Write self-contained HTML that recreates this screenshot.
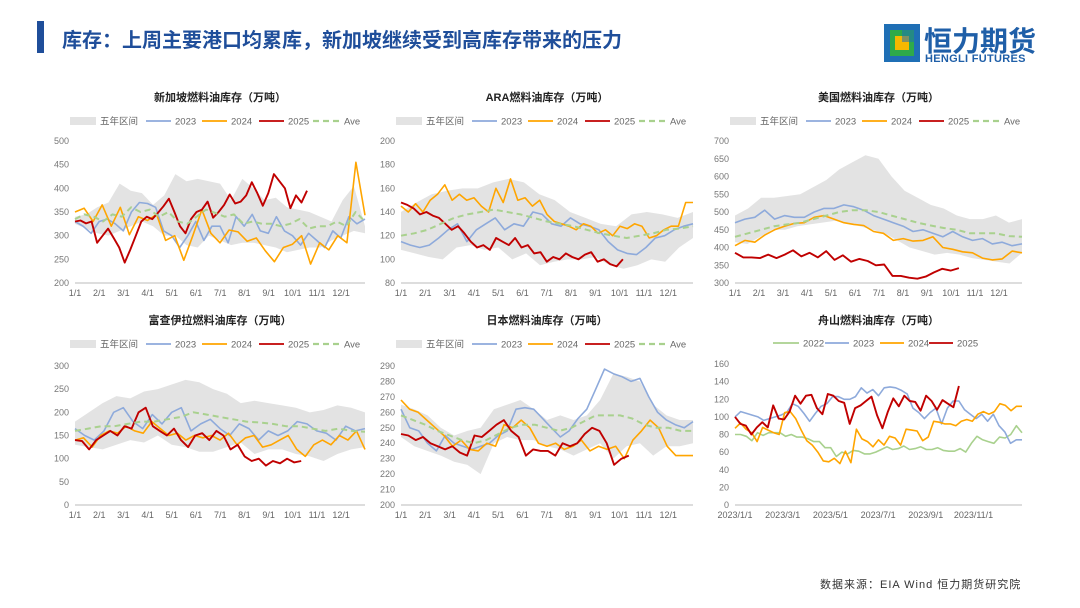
<!DOCTYPE html>
<html><head><meta charset="utf-8">
<style>
body{margin:0;width:1080px;height:608px;background:#fff;overflow:hidden;font-family:"Liberation Sans","Noto Sans CJK SC",sans-serif;position:relative}
#hdr-bar{position:absolute;left:37px;top:21px;width:7px;height:32px;background:#1f4e9a}
#hdr-title{position:absolute;left:62px;top:24px;font-size:20px;font-weight:bold;color:#1f4e9a;font-family:"Liberation Sans","Noto Sans CJK SC",sans-serif}
#logo{position:absolute;left:882px;top:18px}
#src{position:absolute;left:820px;top:576px;font-size:11px;color:#333;letter-spacing:1px}
svg{position:absolute;left:0;top:0}
</style></head><body>
<div id="hdr-bar"></div>
<div id="hdr-title">库存：上周主要港口均累库，新加坡继续受到高库存带来的压力</div>
<div id="logo">
<svg width="175" height="50" style="position:relative">
<rect x="2" y="6" width="36" height="38" fill="#1f6fb5"/><rect x="8" y="12" width="24" height="26" fill="#2eaa4a"/><rect x="13" y="18" width="14" height="14" fill="#f5b800"/><rect x="20" y="6" width="18" height="18" fill="#1f6fb5" opacity="0.55"/>
<text x="42" y="33" font-size="28" font-weight="bold" fill="#1f5fa8" font-family="Liberation Sans,Noto Sans CJK SC,sans-serif">恒力期货</text>
<text x="43" y="44" font-size="11" font-weight="bold" fill="#1f5fa8" font-family="Liberation Sans,sans-serif" letter-spacing="0.3">HENGLI FUTURES</text>
</svg></div>
<div id="src">数据来源：EIA Wind 恒力期货研究院</div>
<svg id="main" width="1080" height="608"></svg>
<script>
// ---- data ----
const monthLabels=["1/1","2/1","3/1","4/1","5/1","6/1","7/1","8/1","9/1","10/1","11/1","12/1"];
const zsLabels=["2023/1/1","2023/3/1","2023/5/1","2023/7/1","2023/9/1","2023/11/1"];
const sg_band_hi=[340,345,360,370,410,395,390,365,385,430,415,420,415,410,375,420,400,375,380,360,355,350,340,330,375,405,320];
const sg_band_lo=[325,315,305,300,310,320,330,320,300,300,280,275,300,290,280,285,285,280,275,265,270,275,275,290,300,310,305];
const sg_2023=[330,320,305,330,335,325,310,350,370,368,360,310,300,275,300,330,290,320,320,285,340,320,345,310,305,340,310,300,280,305,290,275,310,295,340,325,335];
const sg_2024=[350,358,330,365,320,360,302,340,332,345,290,300,248,300,355,305,285,312,308,288,295,268,245,275,282,300,240,285,270,300,285,455,343];
const sg_2025=[330,332,326,330,285,300,315,295,275,243,270,300,330,340,335,348,362,378,350,320,305,335,350,355,372,338,350,365,387,368,372,385,413,390,363,390,430,415,400,358,385,370,395];
const sg_ave=[335,345,340,330,345,340,360,350,355,340,350,330,325,340,355,348,340,345,325,330,325,325,320,325,335,315,320,320,330,320,350,330];
const ara_band_hi=[140,148,155,158,160,160,165,168,165,155,150,140,135,130,128,138,140,138,135,140];
const ara_band_lo=[108,105,102,100,110,112,108,110,100,105,95,98,100,100,102,95,92,95,100,98,110,118];
const ara_2023=[115,112,110,112,118,125,130,115,125,130,135,125,130,128,140,138,130,128,135,130,128,125,115,108,105,104,110,118,120,125,128,130];
const ara_2024=[145,140,147,140,150,155,163,150,155,150,152,145,140,160,148,168,150,152,145,150,138,132,130,128,125,130,128,122,125,120,128,126,130,128,118,120,125,128,128,148,148];
const ara_2025=[148,146,143,138,140,137,135,130,125,128,122,115,110,112,108,118,115,112,118,110,112,105,106,98,102,100,105,102,100,104,106,98,100,96,94,100];
const ara_ave=[120,122,125,130,135,138,140,142,140,138,135,132,130,128,125,122,120,118,120,122,125,126,128];
const us_band_hi=[490,510,540,540,545,550,570,590,620,640,660,650,600,560,540,520,510,490,480,480,490,470,480];
const us_band_lo=[415,410,430,450,450,460,465,470,475,470,460,450,440,420,400,390,380,385,380,370,365,360,355,385];
const us_2023=[470,480,485,505,480,490,485,485,500,510,510,520,515,505,490,480,470,460,445,450,440,430,445,430,420,425,410,415,405,410];
const us_2024=[405,420,415,435,450,460,468,470,485,490,480,470,465,462,445,440,420,425,418,420,430,400,395,388,385,370,365,368,390,385];
const us_2025=[385,372,372,370,380,370,380,392,375,385,372,390,365,378,360,368,362,350,352,320,320,315,312,318,330,340,335,342];
const us_ave=[430,440,450,460,465,470,480,490,500,505,505,500,490,480,470,462,455,450,440,440,440,432,430];
const fj_band_hi=[180,200,220,235,230,245,250,260,270,265,250,240,220,225,220,215,210,200,205,215,210,200];
const fj_band_lo=[130,125,120,130,140,135,150,130,125,115,115,125,135,110,120,120,110,105,95,110,120,125];
const fj_2023=[165,150,140,160,200,210,180,165,195,175,200,210,160,175,185,165,150,175,165,140,160,150,160,180,175,160,155,140,170,160,165];
const fj_2024=[140,145,125,150,160,155,170,160,155,180,165,150,155,140,150,145,150,140,155,130,145,150,125,130,140,150,120,105,130,140,130,150,140,160,120];
const fj_2025=[140,138,120,140,150,160,150,170,165,200,210,170,160,150,165,140,125,150,155,140,160,150,120,130,105,95,100,85,95,90,100,92,95];
const fj_ave=[160,165,170,170,175,180,180,185,190,200,195,190,185,180,178,175,170,170,165,160,165,160,158];
const jp_band_hi=[265,262,258,250,245,248,250,262,265,268,262,255,258,255,258,268,285,283,280,265,258,255,255];
const jp_band_lo=[244,238,235,232,228,226,220,240,244,242,242,238,236,232,236,240,230,238,240,232,238,238,240];
const jp_2023=[262,250,248,240,235,245,240,238,236,238,240,245,248,262,263,262,256,250,244,248,256,262,275,288,285,283,280,282,270,260,255,252,250,254];
const jp_2024=[268,262,260,255,250,245,238,242,236,235,240,238,252,250,255,250,240,238,240,236,238,242,235,238,236,238,230,242,248,255,250,238,232,232,232];
const jp_2025=[246,245,242,244,240,238,236,238,234,232,245,244,248,252,255,248,244,232,236,235,235,232,240,238,240,246,250,248,240,226,230,232];
const jp_ave=[258,255,252,248,245,242,240,242,246,250,252,252,250,248,250,254,258,258,258,256,252,250,250,248,248];
const zs_2022=[80,80,78,73,82,79,82,82,82,78,80,77,77,75,72,72,65,65,55,60,58,62,61,58,58,60,63,66,63,64,67,63,64,66,63,63,65,62,61,61,64,60,70,78,74,72,70,77,76,80,90,82];
const zs_2023=[100,106,104,102,100,96,98,100,102,105,115,112,104,95,104,112,115,123,123,120,120,123,133,127,131,124,133,134,133,130,126,110,105,98,105,110,92,110,118,118,108,103,98,103,95,103,90,83,70,74,74];
const zs_2024=[87,93,86,82,72,88,85,82,80,105,106,98,85,73,68,60,50,49,53,47,61,48,86,75,72,66,74,68,78,76,68,86,85,84,73,77,95,94,92,92,90,95,97,95,103,106,103,106,115,113,107,112,112];
const zs_2025=[100,92,90,80,88,94,88,113,98,97,106,124,115,124,125,110,103,126,124,118,116,92,110,113,118,123,102,87,106,121,112,124,118,117,107,124,118,108,119,115,111,135];

const C={blue:"#8eaadb",orange:"#ffa500",red:"#c00000",green:"#a9d18e",band:"#e3e3e3"};
const NS="http://www.w3.org/2000/svg";
const svg=document.getElementById('main');
function mk(tag,attrs,parent){const e=document.createElementNS(NS,tag);for(const k in attrs)e.setAttribute(k,attrs[k]);(parent||svg).appendChild(e);return e;}

function chart(cfg){
  const g=mk('g',{});
  
  
  const ys=v=>cfg.yb-(v-cfg.min)/(cfg.max-cfg.min)*(cfg.yb-cfg.yt);
  const xs=(i,n,f)=>cfg.x0+(n<=1?0:i/(n-1))*f*(cfg.x1-cfg.x0);
  const t=mk('text',{x:(cfg.x0+cfg.x1)/2,y:cfg.ty,'text-anchor':'middle','font-size':11,'font-weight':'bold',fill:'#222'},g);
  t.textContent=cfg.title;
  
  
  for(let v=cfg.min;v<=cfg.max+1e-9;v+=cfg.step){
    const tl=mk('text',{x:cfg.x0-6,y:ys(v)+3,'text-anchor':'end','font-size':9,fill:'#777'},g);
    tl.textContent=v;
    
    
  }
  mk('line',{x1:cfg.x0,x2:cfg.x1,y1:cfg.yb,y2:cfg.yb,stroke:'#bbb','stroke-width':1},g);
  cfg.xl.forEach((l,i)=>{
    const x=cfg.x0+i*cfg.xstep;
    const xl=mk('text',{x:x,y:cfg.yb+13,'text-anchor':'middle','font-size':9,fill:'#666'},g);
    xl.textContent=l;
    
    
  });
  if(cfg.band){
    const hi=cfg.band[0],lo=cfg.band[1];let pts=[];
    hi.forEach((v,i)=>pts.push(xs(i,hi.length,1)+','+ys(v)));
    for(let i=lo.length-1;i>=0;i--)pts.push(xs(i,lo.length,1)+','+ys(lo[i]));
    const b=mk('polygon',{points:pts.join(' '),fill:C.band},g);
    
    
  }
  cfg.series.forEach(s=>{
    const p=s.d.map((v,i)=>xs(i,s.d.length,s.f||1).toFixed(1)+','+ys(v).toFixed(1)).join(' ');
    const l=mk('polyline',{points:p,fill:'none',stroke:s.c,'stroke-width':s.w||1.6,'stroke-dasharray':s.dash||'','stroke-linejoin':'round'},g);
    
    
  });
  cfg.legend.forEach(it=>{
    const lx=cfg.x0+it.o, ly=cfg.ly, lw=it.w||25;
    if(it.band){mk('rect',{x:lx,y:ly-4,width:26,height:8,fill:C.band},g);}
    else mk('line',{x1:lx,x2:lx+lw,y1:ly,y2:ly,stroke:it.c,'stroke-width':it.dash?2.2:1.8,'stroke-dasharray':it.dash||''},g);
    const tx=mk('text',{x:lx+(it.band?30:lw+4),y:ly+3.5,'font-size':9.5,fill:'#666'},g);
    tx.textContent=it.t;
    
    
  });
}
const std=[{o:-5,band:1,t:'五年区间'},{o:71,c:C.blue,t:'2023'},{o:127,c:C.orange,t:'2024'},{o:184,c:C.red,t:'2025'},{o:238,c:C.green,dash:'6,4',t:'Ave',w:27}];
function ser(a,b,c,d,f){return [{n:'2023',d:a,c:C.blue},{n:'2024',d:b,c:C.orange},{n:'2025',d:c,c:C.red,w:1.9,f:f},{n:'ave',d:d,c:C.green,dash:'6,4',w:2}];}
chart({name:'singapore-chart',title:'新加坡燃料油库存（万吨）',x0:75,x1:365,yt:141,yb:283,min:200,max:500,step:50,xl:monthLabels,xstep:24.2,ty:101,ly:121,band:[sg_band_hi,sg_band_lo],series:ser(sg_2023,sg_2024,sg_2025,sg_ave,0.8),legend:std});
chart({name:'ara-chart',title:'ARA燃料油库存（万吨）',x0:401,x1:693,yt:141,yb:283,min:80,max:200,step:20,xl:monthLabels,xstep:24.3,ty:101,ly:121,band:[ara_band_hi,ara_band_lo],series:ser(ara_2023,ara_2024,ara_2025,ara_ave,0.76),legend:std});
chart({name:'us-chart',title:'美国燃料油库存（万吨）',x0:735,x1:1022,yt:141,yb:283,min:300,max:700,step:50,xl:monthLabels,xstep:24,ty:101,ly:121,band:[us_band_hi,us_band_lo],series:ser(us_2023,us_2024,us_2025,us_ave,0.78),legend:std});
chart({name:'fujairah-chart',title:'富查伊拉燃料油库存（万吨）',x0:75,x1:365,yt:366,yb:505,min:0,max:300,step:50,xl:monthLabels,xstep:24.2,ty:324,ly:344,band:[fj_band_hi,fj_band_lo],series:ser(fj_2023,fj_2024,fj_2025,fj_ave,0.78),legend:std});
chart({name:'japan-chart',title:'日本燃料油库存（万吨）',x0:401,x1:693,yt:366,yb:505,min:200,max:290,step:10,xl:monthLabels,xstep:24.3,ty:324,ly:344,band:[jp_band_hi,jp_band_lo],series:ser(jp_2023,jp_2024,jp_2025,jp_ave,0.78),legend:std});
chart({name:'zhoushan-chart',title:'舟山燃料油库存（万吨）',x0:735,x1:1022,yt:364,yb:505,min:0,max:160,step:20,xl:zsLabels,xstep:47.7,ty:324,ly:343,
  series:[{n:'2022',d:zs_2022,c:C.green},{n:'2023',d:zs_2023,c:C.blue},{n:'2024',d:zs_2024,c:C.orange},{n:'2025',d:zs_2025,c:C.red,w:1.9,f:0.78}],
  legend:[{o:38,c:C.green,t:'2022',w:26},{o:90,c:C.blue,t:'2023',w:24},{o:145,c:C.orange,t:'2024',w:24},{o:194,c:C.red,t:'2025',w:24}]});
</script>
</body></html>
